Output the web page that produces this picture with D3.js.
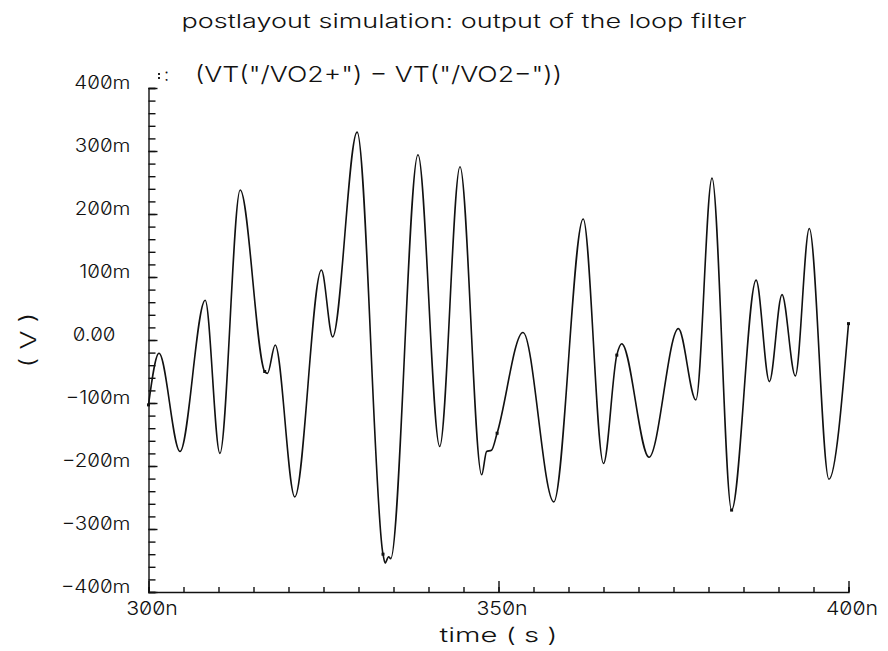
<!DOCTYPE html>
<html>
<head>
<meta charset="utf-8">
<script src="https://cdn.jsdelivr.net/npm/d3@7/dist/d3.min.js"></script>
<style>
  html, body { margin: 0; padding: 0; background: #fff; }
  svg { display: block; }
  text { font-family: Inter, "DejaVu Sans", sans-serif; font-weight: 300; fill: #111;
         font-feature-settings: "zero" 1; }
</style>
</head>
<body>
<svg id="chart" width="888" height="651"></svg>
<script>
// Waveform: loop filter differential output, time in ns, voltage in mV
const timeNs = [300.0, 301.5, 304.5, 308.1, 310.2, 313.1, 316.6, 317.0, 318.1, 320.9,
                324.7, 326.3, 329.8, 333.5, 333.8, 334.3, 334.6, 338.5, 341.6, 344.5,
                347.6, 348.3, 349.0, 349.8, 353.5, 357.9, 362.1, 365.0, 366.9, 367.6,
                371.5, 375.7, 378.2, 380.5, 383.3, 386.8, 388.7, 390.5, 392.4, 394.4,
                397.2, 400.0];
const voltMv = [-103, -21, -177, 63, -180, 238, -50, -53, -8, -249,
                111, 5, 330, -340, -354, -344, -347, 294, -169, 275,
                -214, -177, -175, -148, 12, -257, 192, -196, -24, -6,
                -186, 18, -95, 257, -270, 95, -66, 72, -57, 177,
                -221, 26];

// Symbol markers drawn along the trace
const markerTimeNs = [300.0, 316.6, 333.5, 349.8, 366.9, 383.3, 400.0];
const markerVoltMv = [-103, -50, -340, -148, -24, -270, 26];

// Axis ticks and labels
const yMinorTicks = d3.range(-400, 401, 20);
const yMajorTicks = [400, 300, 200, 100, 0, -100, -200, -300, -400];
const yTickLabels = ["400m", "300m", "200m", "100m", "0.00", "\u2212100m", "\u2212200m", "\u2212300m", "\u2212400m"];
const xMinorTicks = d3.range(300, 401, 5);
const xMajorTicks = [300, 350, 400];
const xTickLabels = ["300n", "350n", "400n"];

const titleText = "postlayout simulation: output of the loop filter";
const legendText = "(VT(\"/VO2+\") \u2212 VT(\"/VO2\u2212\"))";
const xTitle = "time ( s )";
const yTitle = "( V )";

const svg = d3.select("#chart");

const x = d3.scaleLinear().domain([300, 400]).range([148.5, 848.5]);
const y = d3.scaleLinear().domain([-400, 400]).range([592, 88]);

// Widen glyph runs to the broad stroke-font look of the plotting tool
function widen(sel, factor) {
  sel.each(function () {
    const w = this.getComputedTextLength();
    d3.select(this).attr("textLength", w * factor).attr("lengthAdjust", "spacingAndGlyphs");
  });
}

// Title
svg.append("text")
  .attr("x", 464).attr("y", 28)
  .attr("text-anchor", "middle")
  .style("font-size", "19px")
  .attr("textLength", 565).attr("lengthAdjust", "spacingAndGlyphs")
  .text(titleText);

// Legend marker and expression
const lg = svg.append("g").attr("transform", "translate(158,0)");
lg.append("rect").attr("x", 0).attr("y", 73).attr("width", 2).attr("height", 2).attr("fill", "#222");
lg.append("rect").attr("x", 0).attr("y", 77).attr("width", 2).attr("height", 2).attr("fill", "#222");
lg.append("text").attr("x", 6).attr("y", 81).style("font-size", "18px").text(":");
svg.append("text")
  .attr("x", 195).attr("y", 82)
  .style("font-size", "22px")
  .attr("textLength", 367).attr("lengthAdjust", "spacingAndGlyphs")
  .text(legendText);

// Y axis: minor ticks inward, labels on majors
const yAxisMinor = d3.axisLeft(y).tickValues(yMinorTicks).tickSize(-7).tickFormat("");
svg.append("g").attr("transform", `translate(${x(300)},0)`).call(yAxisMinor);
const yAxisMajor = d3.axisLeft(y).tickValues(yMajorTicks).tickSize(-9).tickPadding(18)
  .tickFormat((d, i) => yTickLabels[i]);
const gy2 = svg.append("g").attr("transform", `translate(${x(300)},0)`).call(yAxisMajor);
gy2.select(".domain").remove();
gy2.selectAll("text")
  .attr("dy", "0").attr("y", 0)
  .attr("dx", (d, i) => yTickLabels[i].endsWith("m") ? 0 : -15)
  .attr("font-family", null).attr("font-size", null).attr("fill", null)
  .style("font-size", "18px")
  .call(widen, 1.14);

// X axis
const xAxisMinor = d3.axisBottom(x).tickValues(xMinorTicks).tickSize(-5).tickFormat("");
svg.append("g").attr("transform", `translate(0,${y(-400)})`).call(xAxisMinor);
const xAxisMajor = d3.axisBottom(x).tickValues(xMajorTicks).tickSize(-11)
  .tickFormat((d, i) => xTickLabels[i]);
const gx2 = svg.append("g").attr("transform", `translate(0,${y(-400)})`).call(xAxisMajor);
gx2.select(".domain").remove();
gx2.selectAll("text")
  .attr("dy", "0").attr("y", 23).attr("dx", 3)
  .attr("font-family", null).attr("font-size", null).attr("fill", null)
  .style("font-size", "19px")
  .call(widen, 1.12);

svg.selectAll(".domain, .tick line").attr("stroke", "#111").attr("stroke-width", 1.4);

// Axis titles
svg.append("text")
  .attr("x", (x(300) + x(400)) / 2).attr("y", 642)
  .attr("text-anchor", "middle")
  .style("font-size", "20px")
  .attr("textLength", 118).attr("lengthAdjust", "spacingAndGlyphs")
  .text(xTitle);
svg.append("text")
  .attr("transform", `translate(36,${y(0)}) rotate(-90)`)
  .attr("text-anchor", "middle")
  .style("font-size", "22px")
  .attr("textLength", 55).attr("lengthAdjust", "spacingAndGlyphs")
  .text(yTitle);

// Trace
const pts = timeNs.map((t, i) => [t, voltMv[i]]);
const line = d3.line().x(d => x(d[0])).y(d => y(d[1])).curve(d3.curveMonotoneX);
svg.append("path")
  .datum(pts)
  .attr("d", line)
  .attr("fill", "none")
  .attr("stroke", "#111")
  .attr("stroke-width", 1.6);

// Markers
svg.selectAll("rect.mk")
  .data(markerTimeNs.map((t, i) => [t, markerVoltMv[i]]))
  .join("rect")
  .attr("class", "mk")
  .attr("x", d => x(d[0]) - 1.5).attr("y", d => y(d[1]) - 1.5)
  .attr("width", 3).attr("height", 3)
  .attr("fill", "#111");
</script>
</body>
</html>
